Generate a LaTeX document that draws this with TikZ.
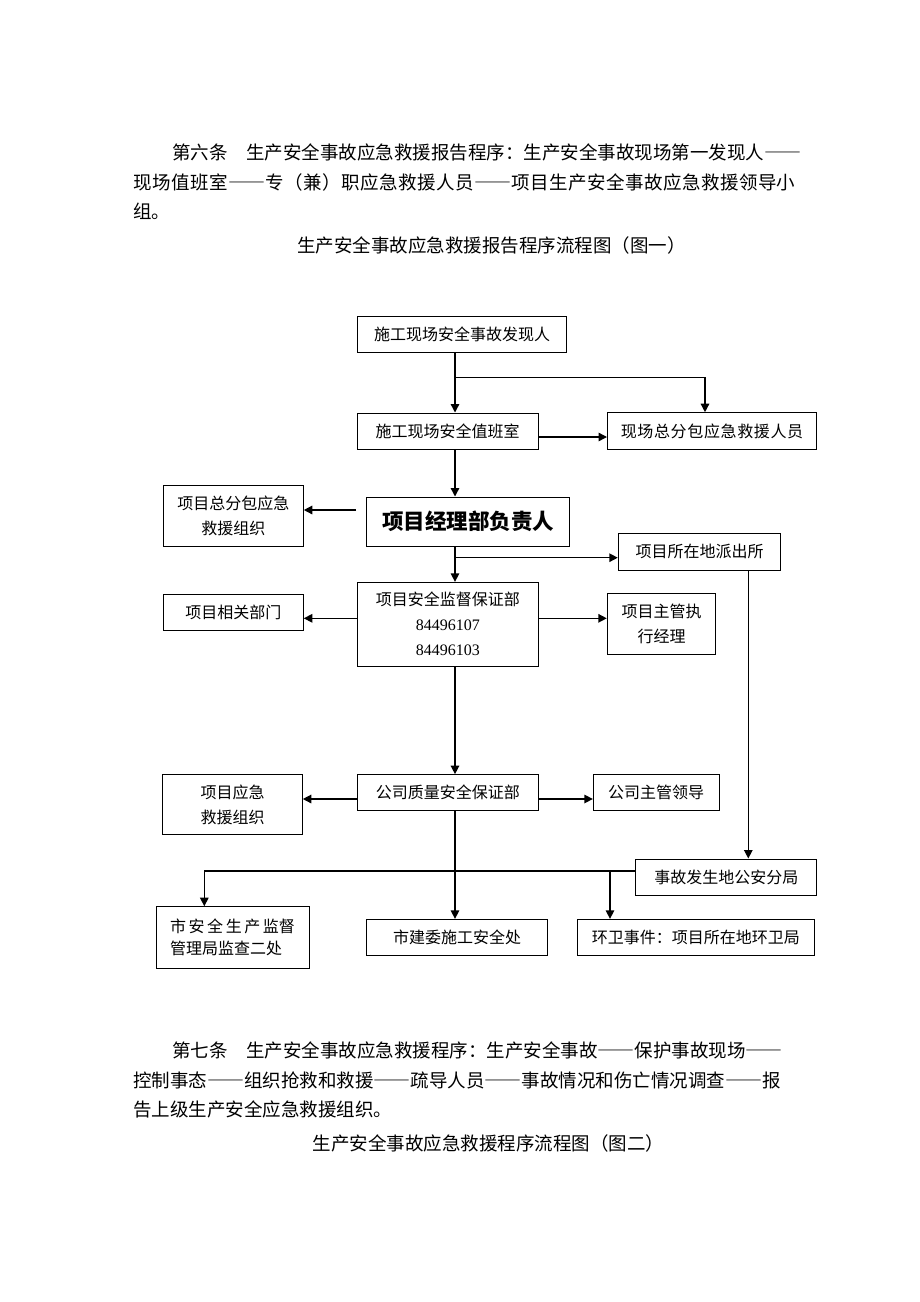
\documentclass[tikz,border=0pt]{standalone}
\usepackage{fontspec}
\setmainfont{Noto Sans CJK SC}
\newfontfamily\numfont{Liberation Serif}
\usetikzlibrary{arrows.meta}
\tikzset{
  box/.style   = {rectangle, draw, line width=1pt, inner sep=0pt, align=center,
                  font=\fontsize{16}{25}\selectfont},
  lead/.style  = {box, font=\bfseries\fontsize{21.5}{26}\selectfont},
  para/.style  = {anchor=west, inner sep=0pt,
                  font=\fontsize{18.5}{22}\selectfont\addfontfeature{RawFeature=+fwid}},
  title/.style = {inner sep=0pt, font=\fontsize{18.5}{22}\selectfont},
  flow/.style  = {-{Triangle[length=8.5pt, width=8.5pt]}, line width=1.4pt},
  link/.style  = {line width=1.4pt}
}

\begin{document}
\begin{tikzpicture}[x=1pt, y=-1pt]
  \fill[white, use as bounding box] (0,0) rectangle (920,1302);

  % text above and below the chart
  \node[para] (art6a) at (172,152) {第六条　生产安全事故应急救援报告程序：生产安全事故现场第一发现人——};
  \node[para] (art6b) at (133,182)
    {\addfontfeature{LetterSpace=2.5}现场值班室——专（兼）职应急救援人员——项目生产安全事故应急救援领导小};
  \node[para] (art6c) at (133,211) {组。};
  \node[title] (fig1) at (491.5,245) {生产安全事故应急救援报告程序流程图（图一）};

  \node[para] (art7a) at (172,1050) {第七条　生产安全事故应急救援程序：生产安全事故——保护事故现场——};
  \node[para] (art7b) at (133,1080) {控制事态——组织抢救和救援——疏导人员——事故情况和伤亡情况调查——报};
  \node[para] (art7c) at (133,1109) {告上级生产安全应急救援组织。};
  \node[title] (fig2) at (488.5,1143) {生产安全事故应急救援程序流程图（图二）};

  % chart boxes
  \node[box, minimum width=209pt, minimum height=36pt]   (finder)  at (462,334.7) {施工现场安全事故发现人};
  \node[box, minimum width=181pt, minimum height=36pt]   (duty)    at (447.7,431) {施工现场安全值班室};
  \node[box, minimum width=209pt, minimum height=36.6pt] (onsite)  at (712,431)
    {\addfontfeature{LetterSpace=4}现场总分包应急救援人员};
  \node[lead, minimum width=202.6pt, minimum height=49pt] (manager) at (468,521.5) {项目经理部负责人};
  \node[box, minimum width=140pt, minimum height=61pt]   (subteam) at (233.3,515.5) {项目总分包应急\\救援组织};
  \node[box, minimum width=162.4pt, minimum height=36.7pt] (police) at (699.5,551.7) {项目所在地派出所};
  \node[box, minimum width=181pt, minimum height=83.7pt] (safety)  at (447.8,624.2)
    {项目安全监督保证部\\{\numfont 84496107}\\{\numfont 84496103}};
  \node[box, minimum width=140pt, minimum height=36pt]   (depts)   at (233.3,612) {项目相关部门};
  \node[box, minimum width=108.4pt, minimum height=60.6pt] (exec)  at (661.5,624) {项目主管执\\行经理};
  \node[box, minimum width=181pt, minimum height=36.3pt] (quality) at (447.8,792.8) {公司质量安全保证部};
  \node[box, minimum width=139.6pt, minimum height=60.3pt] (projteam) at (232.5,804.8) {项目应急\\救援组织};
  \node[box, minimum width=125.7pt, minimum height=36.3pt] (leader) at (656.2,792.8) {公司主管领导};
  \node[box, minimum width=180.7pt, minimum height=36pt] (bureau)  at (726.3,877) {事故发生地公安分局};
  \node[box, minimum width=153pt, minimum height=61.6pt, align=left,
        font=\fontsize{16}{22}\selectfont] (cityaudit) at (232.5,937.5)
    {{\addfontfeature{LetterSpace=16}市安全生产监}督\\管理局监查二处};
  \node[box, minimum width=180.6pt, minimum height=35.7pt] (cityconst) at (457,937.2) {市建委施工安全处};
  \node[box, minimum width=237pt, minimum height=35.7pt] (sanitation) at (695.8,937.2) {环卫事件：项目所在地环卫局};

  % guide coordinates
  \coordinate (spine)   at (455,0);
  \coordinate (splitA)  at (455,377.3);
  \coordinate (splitD)  at (455,557.7);
  \coordinate (rowS)    at (0,618.3);
  \coordinate (rowQ)    at (0,799);
  \coordinate (rowB)    at (0,871);
  \coordinate (colF)    at (748.3,0);
  \coordinate (colN)    at (204.3,0);
  \coordinate (colP)    at (610,0);

  % connectors
  \draw[flow] (finder.south -| spine) -- (duty.north -| spine);
  \draw[flow] (splitA) -| ([xshift=-7pt]onsite.north);
  \draw[flow] ([yshift=-6pt]duty.east) -- ([yshift=-6pt]onsite.west);
  \draw[flow] (duty.south -| spine) -- (manager.north -| spine);
  \draw[flow] ([shift={(-10pt,11.5pt)}]manager.west) -- ([yshift=5.5pt]subteam.east);
  \draw[flow] (manager.south -| spine) -- (safety.north -| spine);
  \draw[flow] (splitD) -- (splitD -| police.west);
  \draw[flow] (safety.west |- rowS) -- (depts.east |- rowS);
  \draw[flow] (safety.east |- rowS) -- (exec.west |- rowS);
  \draw[flow] (safety.south -| spine) -- (quality.north -| spine);
  \draw[flow] (quality.west |- rowQ) -- (projteam.east |- rowQ);
  \draw[flow] (quality.east |- rowQ) -- (leader.west |- rowQ);
  \draw[flow] (police.south -| colF) -- (bureau.north -| colF);
  \draw[flow] (quality.south -| spine) -- (cityconst.north -| spine);
  \draw[flow] (bureau.west |- rowB) -| (cityaudit.north -| colN);
  \draw[flow] (colP |- rowB) -- (sanitation.north -| colP);
\end{tikzpicture}
\end{document}
